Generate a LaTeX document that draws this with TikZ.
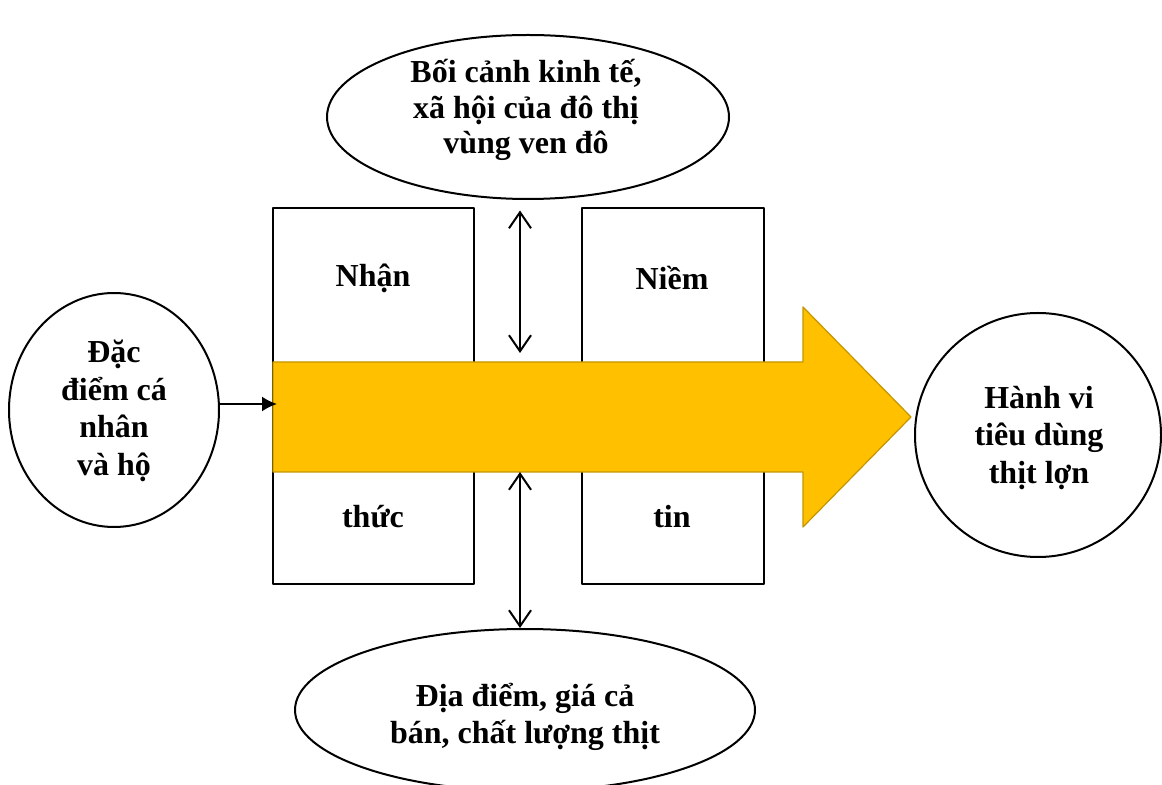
\documentclass[tikz,border=0pt]{standalone}
\usepackage{fontspec}
\setmainfont{Liberation Serif}
\usetikzlibrary{arrows.meta,shapes.geometric}
\definecolor{cam}{HTML}{FFC000}
\definecolor{camvien}{HTML}{C49500}

\begin{document}
\begin{tikzpicture}[x=0.5pt,y=-0.5pt,line cap=round,line join=round,
  font=\fontsize{16}{18.75}\selectfont\bfseries,
  oval/.style={draw,line width=1pt,ellipse,inner sep=0pt},
  chu/.style={align=center,inner sep=0pt},
  hop/.style={draw,line width=1pt,rectangle,inner sep=0pt,minimum height=188pt},
  muiten/.style={line width=1pt,-{Latex[length=7.5pt,width=7.5pt]}},
  haichieu/.style={line width=1pt,{Straight Barb[length=8pt,width=11pt]}-{Straight Barb[length=8pt,width=11pt]}}]
  \useasboundingbox (0,0) rectangle (1162,785);
  \node[oval,minimum width=201pt,minimum height=82pt] (boicanh) at (528,117) {};
  \node[chu,font=\fontsize{16}{17.75}\selectfont\bfseries] (boicanhchu) at (526,110) {Bối cảnh kinh tế,\\xã hội của đô thị\\vùng ven đô};
  \node[hop,minimum width=100.5pt] (nhanthuc) at (373.5,396) {};
  \node[hop,minimum width=91pt] (niemtin) at (673,396) {};
  \node (nhan) at (373,278) {Nhận};
  \node (thuc) at (373,517) {thức};
  \node (niem) at (672,278) {Niềm};
  \node (tin) at (672,517) {tin};
  \draw[fill=cam,draw=camvien,line width=0.6pt] (273,362) -- (803,362) -- (803,307) -- (911,417) -- (803,527) -- (803,472) -- (273,472) -- cycle;
  \coordinate (duoi) at (277,404);
  \coordinate (khetren) at (520,362);
  \coordinate (kheduoi) at (520,472);
  \node[oval,minimum width=105pt,minimum height=117pt] (dacdiem) at (114,410) {};
  \node[chu] (dacdiemchu) at (114,411) {Đặc\\điểm cá\\nhân\\và hộ};
  \node[oval,minimum width=123pt,minimum height=122pt] (hanhvi) at (1038,435) {};
  \node[chu] (hanhvichu) at (1039,438) {Hành vi\\tiêu dùng\\thịt lợn};
  \node[oval,minimum width=230pt,minimum height=81pt] (diadiem) at (525,710) {};
  \node[chu] (diadiemchu) at (525,717) {Địa điểm, giá cả\\bán, chất lượng thịt};
  \draw[muiten] (dacdiem.east |- duoi) -- (duoi);
  \draw[haichieu,shorten <=5.25pt,shorten >=4.5pt] (boicanh.south -| khetren) -- (khetren);
  \draw[haichieu] (kheduoi) -- (diadiem.north -| kheduoi);
\end{tikzpicture}
\end{document}
